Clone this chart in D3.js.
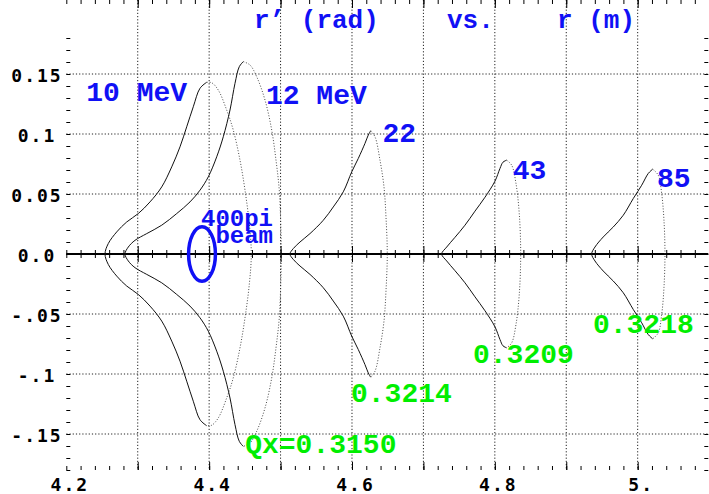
<!DOCTYPE html>
<html>
<head>
<meta charset="utf-8">
<script src="https://cdn.jsdelivr.net/npm/d3@7"></script>
<style>
  body { margin: 0; background: #fff; }
  svg { display: block; }
</style>
</head>
<body>
<div id="chart"></div>
<script>
// upper half of each orbit, [r (m), r' (rad)], from left tip over the peak to the right end
var orbit10 = [[4.2542,0],[4.2588,0.0087],[4.2706,0.0184],[4.2846,0.0267],[4.3008,0.0337],[4.3172,0.0434],
  [4.3336,0.0559],[4.3476,0.0726],[4.3592,0.0893],[4.3686,0.1060],[4.3778,0.1227],[4.3872,0.1381],
  [4.3966,0.1431],[4.4036,0.1427],[4.4128,0.1366],[4.4246,0.1199],[4.4338,0.1032],[4.4432,0.0782],
  [4.4502,0.0532],[4.4562,0.0254],[4.4590,0]];
var orbit12 = [[4.2822,0],[4.2868,0.0058],[4.2962,0.0114],[4.3126,0.0170],[4.3336,0.0240],[4.3546,0.0337],
  [4.3732,0.0434],[4.3872,0.0532],[4.3988,0.0643],[4.4106,0.0810],[4.4198,0.0977],[4.4292,0.1200],
  [4.4362,0.1422],[4.4422,0.1561],[4.4478,0.1603],[4.4572,0.1575],[4.4666,0.1477],[4.4782,0.1283],
  [4.4876,0.1033],[4.4936,0.0782],[4.4982,0.0532],[4.5002,0.0256],[4.5010,0]];
var orbit22 = [[4.5132,0],[4.5178,0.0045],[4.5272,0.0100],[4.5412,0.0170],[4.5598,0.0281],[4.5738,0.0392],
  [4.5878,0.0518],[4.5996,0.0684],[4.6088,0.0796],[4.6182,0.0922],[4.6228,0.0991],[4.6262,0.1027],
  [4.6322,0.0977],[4.6392,0.0782],[4.6448,0.0559],[4.6476,0.0309],[4.6494,0]];
var orbit43 = [[4.7256,0],[4.7326,0.0058],[4.7442,0.0139],[4.7582,0.0240],[4.7722,0.0357],[4.7862,0.0473],
  [4.8002,0.0607],[4.8072,0.0713],[4.8114,0.0765],[4.8166,0.0782],[4.8236,0.0740],[4.8296,0.0588],
  [4.8342,0.0337],[4.8362,0]];
var orbit85 = [[4.9356,0],[4.9402,0.0058],[4.9518,0.0142],[4.9658,0.0225],[4.9798,0.0323],[4.9938,0.0462],
  [5.0056,0.0573],[5.0148,0.0671],[5.0210,0.0707],[5.0288,0.0657],[5.0336,0.0504],[5.0368,0.0281],
  [5.0382,0]];
var orbits = [orbit10, orbit12, orbit22, orbit43, orbit85];

var energyLabels = ["10 MeV", "12 MeV", "22", "43", "85"];
var energyPos = [[4.2280,0.1275],[4.4795,0.1250],[4.6428,0.0935],[4.8250,0.0625],[5.0270,0.0560]];
var tuneLabels = ["Qx=0.3150", "0.3214", "0.3209", "0.3218"];
var tunePos = [[4.4505,-0.1658],[4.5986,-0.1231],[4.7694,-0.0908],[4.9374,-0.0658]];

var beam = {r: 4.390, rp: 0, dr: 0.0188, drp: 0.0228};

var xTickVals = [4.2, 4.4, 4.6, 4.8, 5.0];
var xTickLabels = ["4.2", "4.4", "4.6", "4.8", "5."];
var yTickVals = [0.15, 0.1, 0.05, 0, -0.05, -0.1, -0.15];
var yTickLabels = ["0.15", "0.1", "0.05", "0.0", "-.05", "-.1", "-.15"];

var width = 709, height = 494,
    blue = "#1010f5", green = "#00ee00",
    mono = "'Liberation Mono', 'Courier New', monospace";

var svg = d3.select("#chart").append("svg")
    .attr("width", width).attr("height", height);

var x = d3.scaleLinear().domain([4.2, 5.1]).range([66.3, 709.1]),
    y = d3.scaleLinear().domain([-0.18, 0.18]).range([470, 38]);

var left = x(4.2), right = 708.3, top = y(0.18), bottom = y(-0.18);

function range(a, b, s) {
    var out = [];
    for (var v = a; v <= b + 1e-9; v += s) out.push(+v.toFixed(4));
    return out;
}
var xMajor = range(4.3, 5.0, 0.1),
    xMinor = range(4.2, 5.1, 0.02),
    yGrid = [0.15, 0.1, 0.05, -0.05, -0.1, -0.15],
    yMinor = range(-0.18, 0.18, 0.01);

// dotted grid
svg.append("g").selectAll("line").data(xMajor).enter().append("line")
    .attr("x1", function (d) { return x(d); }).attr("x2", function (d) { return x(d); })
    .attr("y1", top).attr("y2", bottom)
    .attr("stroke", "#222").attr("stroke-width", 1).attr("stroke-dasharray", "1.2,2");
svg.append("g").selectAll("line").data(yGrid).enter().append("line")
    .attr("x1", left).attr("x2", right)
    .attr("y1", function (d) { return y(d); }).attr("y2", function (d) { return y(d); })
    .attr("stroke", "#222").attr("stroke-width", 1).attr("stroke-dasharray", "1.2,2");

// frame ticks
function ticks(axis, tx, ty) {
    var g = svg.append("g").attr("transform", "translate(" + tx + "," + ty + ")").call(axis);
    g.select(".domain").remove();
    g.selectAll("text").remove();
    g.selectAll("line").attr("stroke", "#000");
    return g;
}
ticks(d3.axisTop(x).tickValues(xMinor).tickSize(4), 0, bottom);
ticks(d3.axisTop(x).tickValues(xMajor).tickSize(8), 0, bottom);
ticks(d3.axisBottom(x).tickValues(xMinor).tickSize(4), 0, top);
ticks(d3.axisBottom(x).tickValues(xMajor).tickSize(8), 0, top);
ticks(d3.axisRight(y).tickValues(yMinor).tickSize(4), left, 0);
ticks(d3.axisLeft(y).tickValues(yMinor).tickSize(4), right, 0);
// zero line with ticks on both sides
ticks(d3.axisTop(x).tickValues(xMinor).tickSize(4), 0, y(0));
ticks(d3.axisBottom(x).tickValues(xMinor).tickSize(4), 0, y(0));
ticks(d3.axisTop(x).tickValues(xMajor).tickSize(8), 0, y(0));
ticks(d3.axisBottom(x).tickValues(xMajor).tickSize(8), 0, y(0));
svg.append("line").attr("x1", left).attr("x2", right)
    .attr("y1", y(0)).attr("y2", y(0))
    .attr("stroke", "#000").attr("stroke-width", 2);

svg.append("rect").attr("x", left).attr("y", top)
    .attr("width", right - left).attr("height", bottom - top)
    .attr("fill", "none").attr("stroke", "#000").attr("stroke-width", 1.5);

// tick labels
var tickFont = "'DejaVu Sans Mono', monospace";
var xl = svg.append("g").attr("transform", "translate(3," + bottom + ")")
    .call(d3.axisBottom(x).tickValues(xTickVals).tickSize(0).tickPadding(8)
        .tickFormat(function (d, i) { return xTickLabels[i]; }));
xl.select(".domain").remove();
xl.selectAll("text").attr("font-family", tickFont).attr("font-weight", "bold")
    .attr("font-size", 18).attr("letter-spacing", 2).attr("fill", "#000");

svg.append("g").selectAll("text").data(yTickVals).enter().append("text")
    .attr("x", 37).attr("y", function (d) { return y(d) + 7.5; })
    .attr("text-anchor", "middle")
    .attr("font-family", tickFont).attr("font-weight", "bold")
    .attr("font-size", 18).attr("letter-spacing", 2)
    .text(function (d, i) { return yTickLabels[i]; });

// orbits
var line = d3.line()
    .x(function (d) { return x(d[0]); })
    .y(function (d) { return y(d[1]); })
    .curve(d3.curveCatmullRom.alpha(0.5));
function mirror(pts) { return pts.map(function (p) { return [p[0], -p[1]]; }); }

orbits.forEach(function (pts) {
    var pk = d3.maxIndex(pts, function (p) { return p[1]; });
    var leftSide = mirror(pts.slice(0, pk + 1)).reverse().concat(pts.slice(1, pk + 1));
    var rightSide = pts.slice(pk).concat(mirror(pts.slice(pk, pts.length - 1)).reverse());
    svg.append("path").attr("d", line(leftSide))
        .attr("fill", "none").attr("stroke", "#111").attr("stroke-width", 1);
    svg.append("path").attr("d", line(rightSide))
        .attr("fill", "none").attr("stroke", "#333").attr("stroke-width", 0.9)
        .attr("stroke-dasharray", "1,1.8");
});

// beam ellipse
svg.append("ellipse")
    .attr("cx", x(beam.r)).attr("cy", y(beam.rp))
    .attr("rx", x(beam.r + beam.dr) - x(beam.r))
    .attr("ry", y(beam.rp) - y(beam.rp + beam.drp))
    .attr("fill", "none").attr("stroke", blue).attr("stroke-width", 3.5);

// annotations
svg.append("g").selectAll("text").data(energyLabels).enter().append("text")
    .attr("x", function (d, i) { return x(energyPos[i][0]); })
    .attr("y", function (d, i) { return y(energyPos[i][1]); })
    .attr("font-family", mono).attr("font-weight", "bold").attr("font-size", 28)
    .attr("fill", blue)
    .text(function (d) { return d; });

svg.append("text").attr("x", 273).attr("y", 226)
    .attr("text-anchor", "end")
    .attr("font-family", mono).attr("font-weight", "bold").attr("font-size", 24)
    .attr("fill", blue).text("400pi");
svg.append("text").attr("x", 273).attr("y", 243)
    .attr("text-anchor", "end")
    .attr("font-family", mono).attr("font-weight", "bold").attr("font-size", 24)
    .attr("fill", blue).text("beam");

svg.append("g").selectAll("text").data(tuneLabels).enter().append("text")
    .attr("x", function (d, i) { return x(tunePos[i][0]); })
    .attr("y", function (d, i) { return y(tunePos[i][1]); })
    .attr("font-family", mono).attr("font-weight", "bold").attr("font-size", 28)
    .attr("fill", green)
    .text(function (d) { return d; });

// title
var title = svg.append("g").attr("font-family", mono).attr("font-weight", "bold")
    .attr("font-size", 26).attr("fill", blue);
title.append("text").attr("x", 254).attr("y", 28).text("r’ (rad)");
title.append("text").attr("x", 447).attr("y", 28).text("vs.");
title.append("text").attr("x", 557).attr("y", 28).text("r (m)");
</script>
</body>
</html>
